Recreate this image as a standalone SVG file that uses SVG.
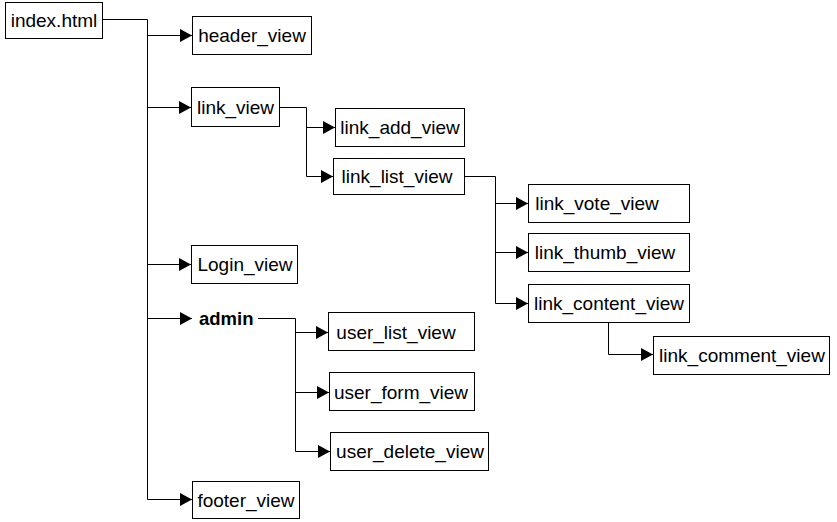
<svg xmlns="http://www.w3.org/2000/svg" width="837" height="522" viewBox="0 0 837 522">
<style>
.box{fill:#fff;stroke:#000;stroke-width:1}
.t{font-family:"Liberation Sans",Arial,sans-serif;font-size:19px;fill:#000;text-anchor:middle}
.b{font-weight:bold;text-anchor:start;font-size:18.5px}
.c{fill:none;stroke:#000;stroke-width:1}
</style>
<defs>
<marker id="ah" markerUnits="userSpaceOnUse" markerWidth="13" markerHeight="13" refX="12" refY="6.5" orient="auto">
<path d="M0,0 L12,6.5 L0,13 z" fill="#000"/>
</marker>
</defs>
<rect width="837" height="522" fill="#fff"/>
<g id="connectors">
<path class="c" d="M102.5,19.5 H147.5 V499.5"/>
<path class="c" marker-end="url(#ah)" d="M147.5,35.5 H192"/>
<path class="c" marker-end="url(#ah)" d="M147.5,107.5 H191"/>
<path class="c" marker-end="url(#ah)" d="M147.5,264.5 H191"/>
<path class="c" marker-end="url(#ah)" d="M147.5,318.5 H192"/>
<path class="c" marker-end="url(#ah)" d="M147.5,499.5 H192"/>
<path class="c" d="M279.5,107.5 H306.5 V176.5"/>
<path class="c" marker-end="url(#ah)" d="M306.5,127.5 H335"/>
<path class="c" marker-end="url(#ah)" d="M306.5,176.5 H333"/>
<path class="c" d="M464.5,176.5 H495.5 V303.5"/>
<path class="c" marker-end="url(#ah)" d="M495.5,203.5 H528"/>
<path class="c" marker-end="url(#ah)" d="M495.5,252.5 H528"/>
<path class="c" marker-end="url(#ah)" d="M495.5,303.5 H528"/>
<path class="c" marker-end="url(#ah)" d="M608.5,322.5 V354.5 H653"/>
<path class="c" d="M258,318.5 H295.5 V451.5"/>
<path class="c" marker-end="url(#ah)" d="M295.5,332.5 H328"/>
<path class="c" marker-end="url(#ah)" d="M295.5,392.5 H329"/>
<path class="c" marker-end="url(#ah)" d="M295.5,451.5 H330"/>
</g>
<g id="index"><rect class="box" x="5.5" y="2.5" width="97" height="36"/><text class="t" x="54" y="26.5">index.html</text></g>
<g id="header_view"><rect class="box" x="192.5" y="16.5" width="119" height="38"/><text class="t" x="252" y="42">header_view</text></g>
<g id="link_view"><rect class="box" x="191.5" y="87.5" width="88" height="39"/><text class="t" x="235.5" y="113.5">link_view</text></g>
<g id="link_add_view"><rect class="box" x="335.5" y="108.5" width="129" height="38"/><text class="t" x="400" y="134">link_add_view</text></g>
<g id="link_list_view"><rect class="box" x="333.5" y="158.5" width="131" height="36"/><text class="t" x="397" y="183">link_list_view</text></g>
<g id="link_vote_view"><rect class="box" x="528.5" y="184.5" width="161" height="38"/><text class="t" x="597" y="210">link_vote_view</text></g>
<g id="link_thumb_view"><rect class="box" x="528.5" y="233.5" width="161" height="38"/><text class="t" x="605" y="259">link_thumb_view</text></g>
<g id="link_content_view"><rect class="box" x="528.5" y="284.5" width="161" height="38"/><text class="t" x="609" y="310">link_content_view</text></g>
<g id="link_comment_view"><rect class="box" x="653.5" y="336.5" width="176" height="38"/><text class="t" x="742" y="361.5">link_comment_view</text></g>
<g id="login_view"><rect class="box" x="191.5" y="245.5" width="106" height="38"/><text class="t" x="245" y="271">Login_view</text></g>
<g id="admin"><text class="t b" x="199" y="325">admin</text></g>
<g id="user_list_view"><rect class="box" x="328.5" y="312.5" width="146" height="38"/><text class="t" x="396" y="338.5">user_list_view</text></g>
<g id="user_form_view"><rect class="box" x="329.5" y="372.5" width="145" height="38"/><text class="t" x="401" y="398.5">user_form_view</text></g>
<g id="user_delete_view"><rect class="box" x="330.5" y="432.5" width="158" height="38"/><text class="t" x="410" y="458">user_delete_view</text></g>
<g id="footer_view"><rect class="box" x="192.5" y="481.5" width="107" height="37"/><text class="t" x="246" y="506.5">footer_view</text></g>
</svg>
